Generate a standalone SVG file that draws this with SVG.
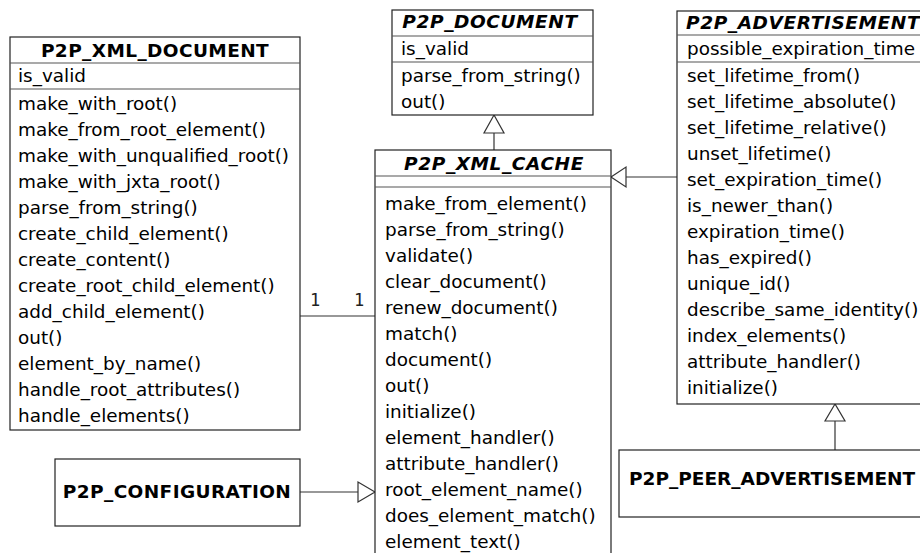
<svg xmlns="http://www.w3.org/2000/svg" width="920" height="553" viewBox="0 0 920 553">
<style>
.box{fill:#fff;stroke:#222;stroke-width:1.2}
.sep{stroke:#555;stroke-width:1.2}
.t{font-family:"DejaVu Sans",sans-serif;font-size:18.4px;fill:#000}
.h{font-family:"DejaVu Sans",sans-serif;font-size:18.5px;font-weight:bold;letter-spacing:0.4px;fill:#000}
.hi{font-family:"DejaVu Sans",sans-serif;font-size:18.5px;font-weight:bold;font-style:italic;letter-spacing:0.6px;fill:#000}
.m{font-family:"DejaVu Sans Mono",monospace;font-size:17px;fill:#222}
.ln{stroke:#333;stroke-width:1.2;fill:none}
.tri{fill:#fff;stroke:#333;stroke-width:1.2}
</style>
<g id="connectors">
<line class="ln" x1="300" y1="316" x2="375" y2="316"/>
<text class="m" x="310" y="306">1</text>
<text class="m" x="354" y="306">1</text>
<line class="ln" x1="494" y1="133" x2="494" y2="150"/>
<polygon class="tri" points="494,115 484,133 504,133"/>
<line class="ln" x1="626" y1="177" x2="677" y2="177"/>
<polygon class="tri" points="611,177 626,167 626,187"/>
<line class="ln" x1="835" y1="421" x2="835" y2="450"/>
<polygon class="tri" points="835,404 825,421 845,421"/>
<line class="ln" x1="300" y1="492" x2="358" y2="492"/>
<polygon class="tri" points="375,492 358,482 358,502"/>
</g>
<g id="P2P_XML_DOCUMENT">
<rect class="box" x="10" y="37" width="290" height="393"/>
<line class="sep" x1="10" y1="63" x2="300" y2="63"/>
<line class="sep" x1="10" y1="89" x2="300" y2="89"/>
<text class="h" x="155" y="57" text-anchor="middle">P2P_XML_DOCUMENT</text>
<text class="t" x="18" y="82">is_valid</text>
<text class="t" x="18" y="110">make_with_root()</text>
<text class="t" x="18" y="136">make_from_root_element()</text>
<text class="t" x="18" y="162">make_with_unqualified_root()</text>
<text class="t" x="18" y="188">make_with_jxta_root()</text>
<text class="t" x="18" y="214">parse_from_string()</text>
<text class="t" x="18" y="240">create_child_element()</text>
<text class="t" x="18" y="266">create_content()</text>
<text class="t" x="18" y="292">create_root_child_element()</text>
<text class="t" x="18" y="318">add_child_element()</text>
<text class="t" x="18" y="344">out()</text>
<text class="t" x="18" y="370">element_by_name()</text>
<text class="t" x="18" y="396">handle_root_attributes()</text>
<text class="t" x="18" y="422">handle_elements()</text>
</g>
<g id="P2P_DOCUMENT">
<rect class="box" x="392" y="10" width="201" height="105"/>
<line class="sep" x1="392" y1="36" x2="593" y2="36"/>
<line class="sep" x1="392" y1="62" x2="593" y2="62"/>
<text class="hi" x="490" y="28" text-anchor="middle">P2P_DOCUMENT</text>
<text class="t" x="401" y="55">is_valid</text>
<text class="t" x="401" y="82">parse_from_string()</text>
<text class="t" x="401" y="108">out()</text>
</g>
<g id="P2P_XML_CACHE">
<rect class="box" x="375" y="150" width="236" height="420"/>
<line class="sep" x1="375" y1="176" x2="611" y2="176"/>
<line class="sep" x1="375" y1="187" x2="611" y2="187"/>
<text class="hi" x="494" y="170" text-anchor="middle">P2P_XML_CACHE</text>
<text class="t" x="385" y="210">make_from_element()</text>
<text class="t" x="385" y="236">parse_from_string()</text>
<text class="t" x="385" y="262">validate()</text>
<text class="t" x="385" y="288">clear_document()</text>
<text class="t" x="385" y="314">renew_document()</text>
<text class="t" x="385" y="340">match()</text>
<text class="t" x="385" y="366">document()</text>
<text class="t" x="385" y="392">out()</text>
<text class="t" x="385" y="418">initialize()</text>
<text class="t" x="385" y="444">element_handler()</text>
<text class="t" x="385" y="470">attribute_handler()</text>
<text class="t" x="385" y="496">root_element_name()</text>
<text class="t" x="385" y="522">does_element_match()</text>
<text class="t" x="385" y="548">element_text()</text>
</g>
<g id="P2P_ADVERTISEMENT">
<rect class="box" x="677" y="11" width="260" height="393"/>
<line class="sep" x1="677" y1="35" x2="937" y2="35"/>
<line class="sep" x1="677" y1="62" x2="937" y2="62"/>
<text class="hi" x="686" y="29">P2P_ADVERTISEMENT</text>
<text class="t" x="687" y="55">possible_expiration_time</text>
<text class="t" x="687" y="82">set_lifetime_from()</text>
<text class="t" x="687" y="108">set_lifetime_absolute()</text>
<text class="t" x="687" y="134">set_lifetime_relative()</text>
<text class="t" x="687" y="160">unset_lifetime()</text>
<text class="t" x="687" y="186">set_expiration_time()</text>
<text class="t" x="687" y="212">is_newer_than()</text>
<text class="t" x="687" y="238">expiration_time()</text>
<text class="t" x="687" y="264">has_expired()</text>
<text class="t" x="687" y="290">unique_id()</text>
<text class="t" x="687" y="316">describe_same_identity()</text>
<text class="t" x="687" y="342">index_elements()</text>
<text class="t" x="687" y="368">attribute_handler()</text>
<text class="t" x="687" y="394">initialize()</text>
</g>
<g id="P2P_PEER_ADVERTISEMENT">
<rect class="box" x="619" y="450" width="320" height="67"/>
<text class="h" x="629" y="485" style="letter-spacing:0">P2P_PEER_ADVERTISEMENT</text>
</g>
<g id="P2P_CONFIGURATION">
<rect class="box" x="55" y="459" width="245" height="67"/>
<text class="h" x="177" y="498" text-anchor="middle">P2P_CONFIGURATION</text>
</g>
</svg>
